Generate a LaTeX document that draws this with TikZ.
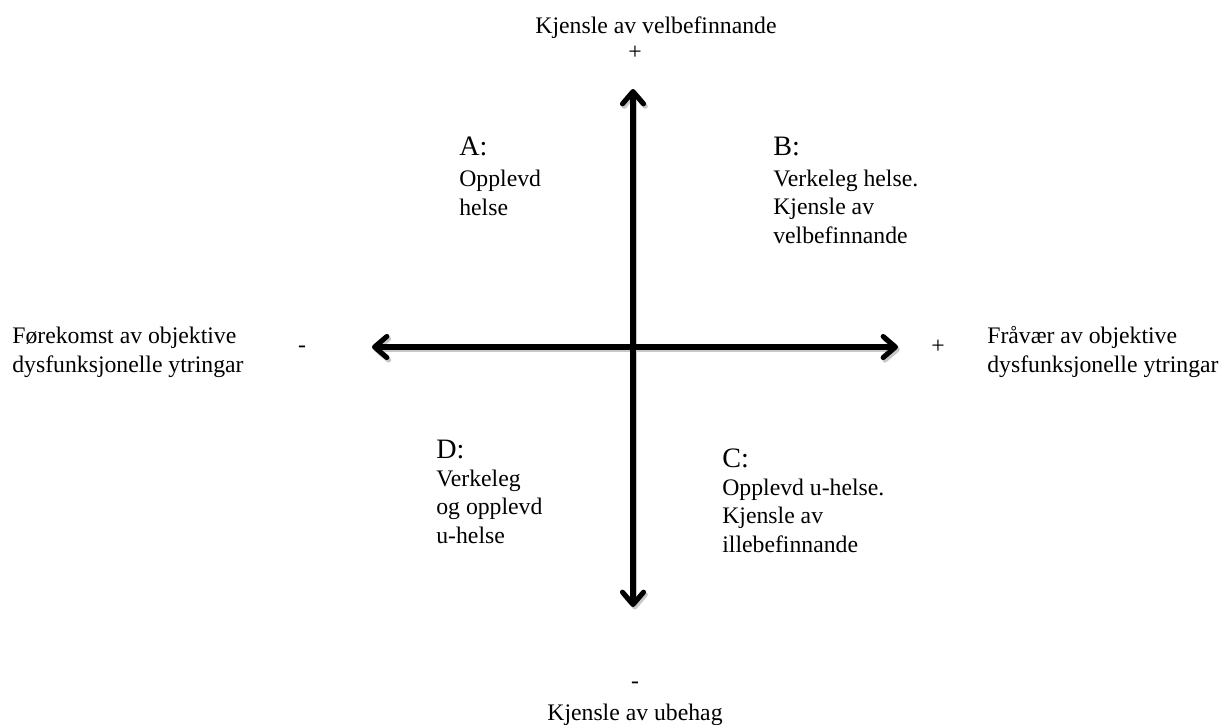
\documentclass[tikz,border=0pt]{standalone}
\usepackage{fontspec}
\setmainfont{Liberation Serif}
\usetikzlibrary{arrows.meta, positioning}

\tikzset{
  axisline/.style={line width=2.9pt,
    {Straight Barb[length=7pt,width=12pt,round]}-{Straight Barb[length=7pt,width=12pt,round]}},
  axisshadow/.style={axisline, draw=black!22, transform canvas={shift={(1pt,-1.4pt)}}},
  quadletter/.style={anchor=base west, inner sep=0pt, font=\fontsize{16}{18}\selectfont},
  quadtext/.style={anchor=base west, inner sep=0pt, align=left, font=\fontsize{13.5}{16}\selectfont},
  signmark/.style={inner sep=0pt, font=\fontsize{13.5}{16}\selectfont},
}

\begin{document}
\begin{tikzpicture}[x=0.02cm, y=-0.02cm]
\useasboundingbox (0,0) rectangle (1228,724);

% axes
\coordinate (top) at (633,89);
\coordinate (bottom) at (633,607);
\coordinate (left) at (372,347);
\coordinate (right) at (898,347);
\draw[axisshadow] (bottom) -- (top);
\draw[axisshadow] (left) -- (right);
\draw[axisline] (bottom) -- (top);
\draw[axisline] (left) -- (right);

% axis ends (base anchor = last line)
\node[quadtext, anchor=base] (feelgood) at (656,33) {Kjensle av velbefinnande};
\node[signmark] (plustop) at (635,53) {+};
\node[signmark] (minusbottom) at (635,685) {-};
\node[quadtext, anchor=base] (feelbad) at (635,720) {Kjensle av ubehag};
\node[signmark] (minusleft) at (302,349) {-};
\node[signmark] (plusright) at (938,347) {+};
\node[quadtext] (presence) at (12,372) {Førekomst av objektive\\dysfunksjonelle ytringar};
\node[quadtext] (absence) at (987,372) {Fråvær av objektive\\dysfunksjonelle ytringar};

% quadrants
\node[quadletter] (letterA) at (459,155) {A:};
\node[quadtext] (textA) at (459,215) {Opplevd\\helse};
\node[quadletter] (letterB) at (773,155) {B:};
\node[quadtext] (textB) at (773,243) {Verkeleg helse.\\Kjensle av\\velbefinnande};
\node[quadletter] (letterC) at (722,467) {C:};
\node[quadtext] (textC) at (722,552) {Opplevd u-helse.\\Kjensle av\\illebefinnande};
\node[quadletter] (letterD) at (436,458) {D:};
\node[quadtext] (textD) at (436,543) {Verkeleg\\og opplevd\\u-helse};
\end{tikzpicture}
\end{document}
